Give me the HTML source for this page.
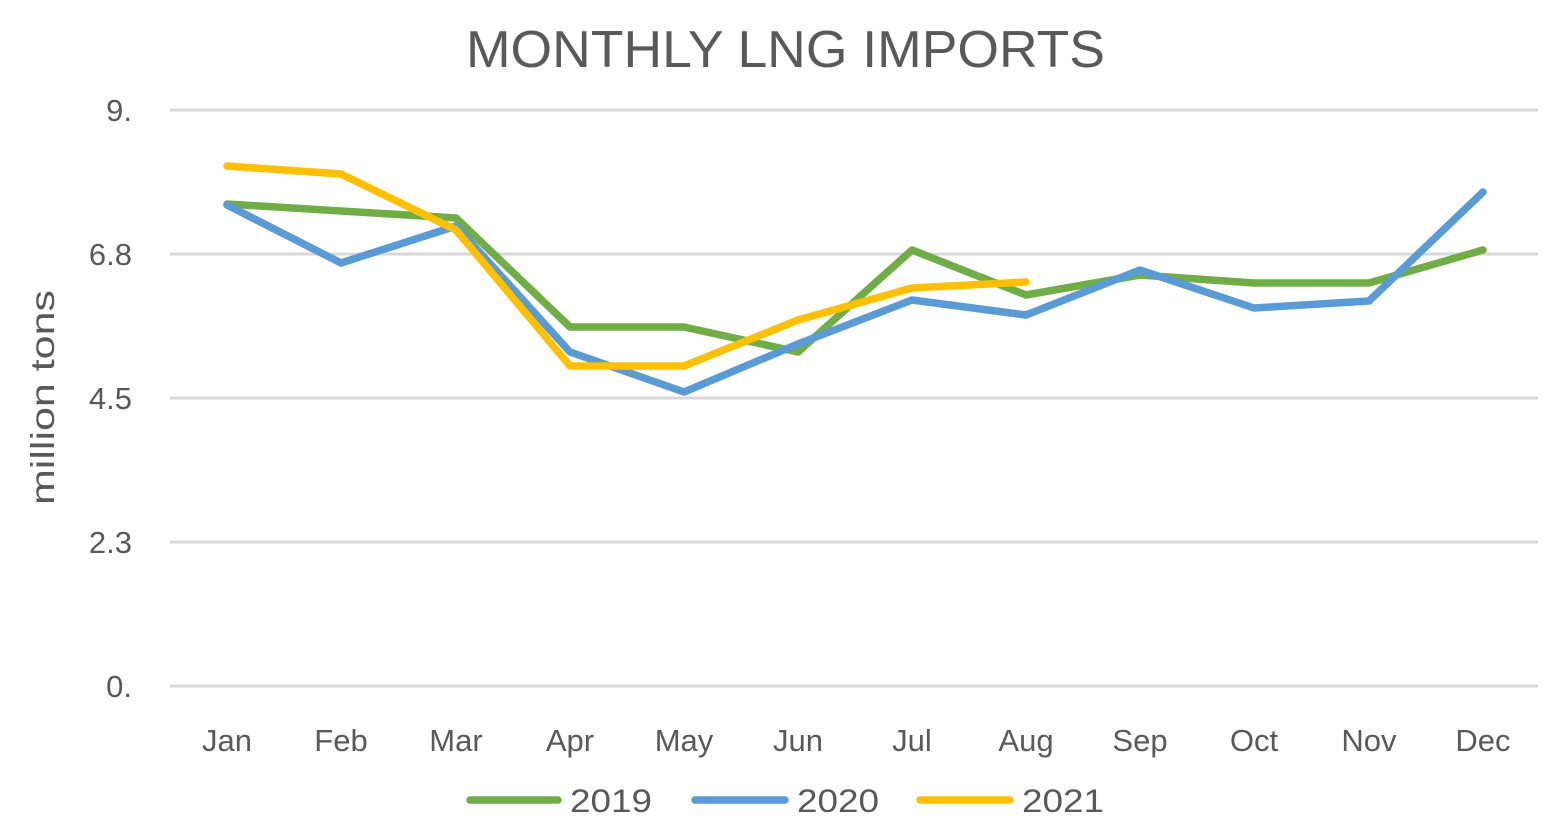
<!DOCTYPE html>
<html><head><style>body{margin:0;background:#fff}svg{display:block}text{font-family:"Liberation Sans",sans-serif;fill:#595959}</style></head><body>
<svg width="1548" height="828" viewBox="0 0 1548 828">
<text x="466" y="67" font-size="52" textLength="639" lengthAdjust="spacingAndGlyphs">MONTHLY LNG IMPORTS</text>
<g stroke="#d9d9d9" stroke-width="3">
<line x1="170" y1="110" x2="1538" y2="110"/><line x1="170" y1="254" x2="1538" y2="254"/><line x1="170" y1="398" x2="1538" y2="398"/><line x1="170" y1="542" x2="1538" y2="542"/><line x1="170" y1="686" x2="1538" y2="686"/></g>
<g font-size="31" text-anchor="end"><text x="132" y="121">9.</text><text x="132" y="265">6.8</text><text x="132" y="409">4.5</text><text x="132" y="553">2.3</text><text x="132" y="697">0.</text></g>
<text transform="translate(54,505) rotate(-90)" font-size="33" textLength="215" lengthAdjust="spacingAndGlyphs">million tons</text>
<g font-size="31" text-anchor="middle"><text x="227" y="751">Jan</text><text x="341" y="751">Feb</text><text x="456" y="751">Mar</text><text x="570" y="751">Apr</text><text x="684" y="751">May</text><text x="798" y="751">Jun</text><text x="912" y="751">Jul</text><text x="1026" y="751">Aug</text><text x="1140" y="751">Sep</text><text x="1254" y="751">Oct</text><text x="1369" y="751">Nov</text><text x="1483" y="751">Dec</text></g>
<g fill="none" stroke-width="7.5" stroke-linecap="round" stroke-linejoin="round">
<polyline stroke="#70AD47" points="227,204 341,211 456,218 570,327 684,327 798,352 912,250 1026,295 1140,275 1254,283 1369,283 1483,250"/>
<polyline stroke="#5B9BD5" points="227,205 341,263 456,226 570,352 684,392 798,344 912,300 1026,315 1140,270 1254,308 1369,301 1483,192"/>
<polyline stroke="#FFC000" points="227,166 341,174 456,230 570,366 684,366 798,320 912,288 1026,282"/>
</g>
<g stroke-width="7.5" stroke-linecap="round"><line x1="470" y1="800" x2="558" y2="800" stroke="#70AD47"/><line x1="695" y1="800" x2="785" y2="800" stroke="#5B9BD5"/><line x1="920" y1="800" x2="1010" y2="800" stroke="#FFC000"/></g>
<g font-size="32"><text x="570" y="812" textLength="82" lengthAdjust="spacingAndGlyphs">2019</text><text x="797" y="812" textLength="82" lengthAdjust="spacingAndGlyphs">2020</text><text x="1022" y="812" textLength="82" lengthAdjust="spacingAndGlyphs">2021</text></g>
</svg></body></html>
